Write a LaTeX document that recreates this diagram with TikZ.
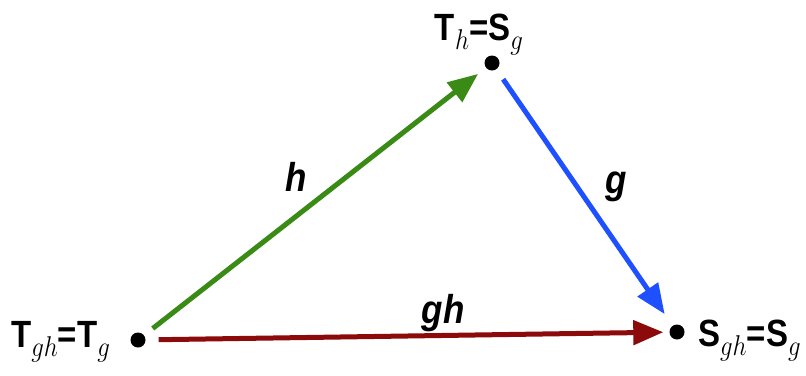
\documentclass[tikz,border=0pt]{standalone}
\usepackage{fontspec}
\usepackage{graphicx}
\setmainfont{Liberation Sans}
\usetikzlibrary{arrows.meta}
\definecolor{cgreen}{RGB}{58,138,22}
\definecolor{cblue}{RGB}{30,80,255}
\definecolor{cred}{RGB}{140,10,10}
\newcommand\mysub[1]{\raisebox{-8pt}{\fontsize{26}{26}\selectfont$#1$}}
\newcommand\tall[1]{\scalebox{1}[1.15]{#1}}
\tikzset{
  dot/.style={circle,fill=black,inner sep=0pt,minimum size=15pt},
  conn/.style={line width=5pt,-{Triangle[length=30pt,width=24pt]}},
  vlabel/.style={font=\fontsize{33}{35}\selectfont\bfseries,inner sep=0pt},
  elabel/.style={font=\fontsize{35}{37}\selectfont\bfseries\itshape,inner sep=0pt}
}
\begin{document}
\begin{tikzpicture}[x=1pt,y=-1pt]
\useasboundingbox[fill=white] (0,0) rectangle (806,375);
\node[dot] (L) at (138,340) {};
\node[dot] (T) at (492,63) {};
\node[dot] (R) at (677,332) {};
\node[vlabel,anchor=base west] (lL) at (11,347) {\tall{T\mysub{gh}=T\mysub{g}}};
\node[vlabel,anchor=base] (lT) at (479,40) {\tall{T\mysub{h}=S\mysub{g}}};
\node[vlabel,anchor=base west] (lR) at (698,346) {\tall{S\mysub{gh}=S\mysub{g}}};
\draw[conn,cgreen,shorten <=11pt,shorten >=10pt] (L) -- (T);
\draw[conn,cblue,shorten <=12pt,shorten >=14pt] (T) -- (R);
\draw[conn,cred,shorten <=13pt,shorten >=6pt] (L) -- (R);
\node[elabel,anchor=base] (eh) at (296,191) {\tall{h}};
\node[elabel,anchor=base] (eg) at (616,193) {\tall{g}};
\node[elabel,anchor=base] (egh) at (443,323) {\tall{gh}};
\end{tikzpicture}
\end{document}
